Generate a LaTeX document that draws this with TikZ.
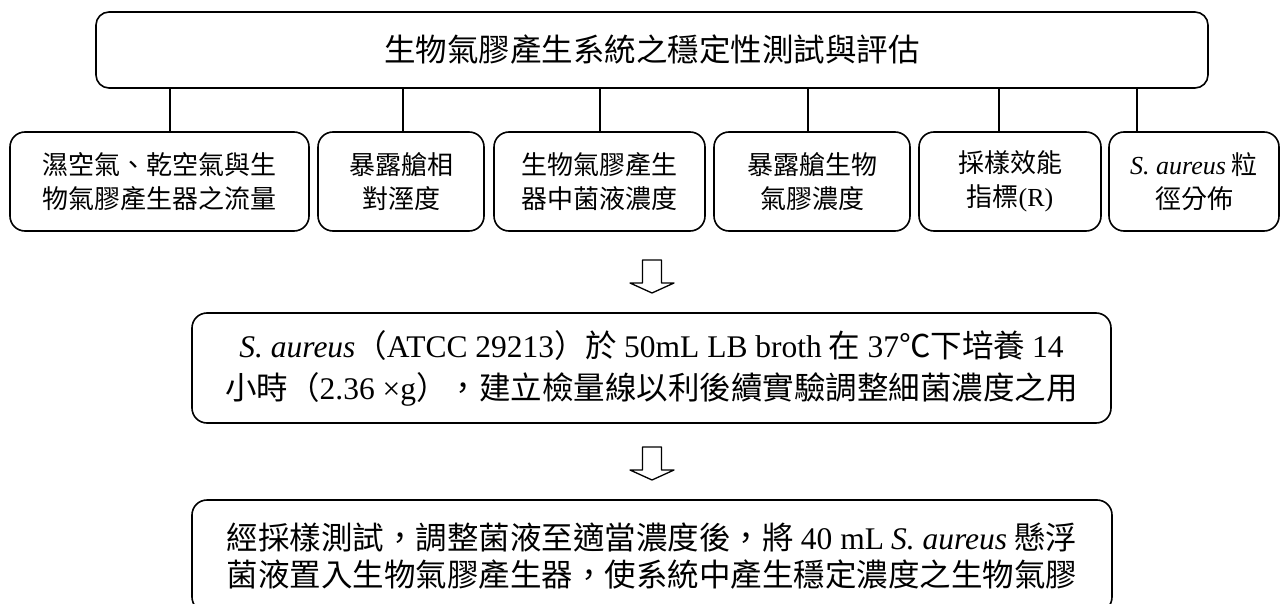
\documentclass[tikz,border=0pt]{standalone}
\usepackage{fontspec}
\setmainfont{Noto Sans CJK TC}
\newfontfamily\latfont{Liberation Serif}
\newcommand\lt[1]{{\latfont #1}}
\newcommand\ita[1]{{\latfont\itshape #1}}
\begin{document}
\begin{tikzpicture}[x=1pt,y=-1pt,line join=round,
  box/.style={draw, line width=1.6pt, rounded corners=14pt, inner sep=0pt, align=center, text=black},
  bigtext/.style={font=\fontsize{31.5}{42}\selectfont},
  kid/.style={box, minimum height=99pt, rounded corners=15pt, font=\fontsize{26}{34}\selectfont},
  conn/.style={line width=1.2pt},
  hollow/.style={draw, line width=1.3pt, fill=white}]
\useasboundingbox (0,0) rectangle (1281,604);
% top box
\node[box, bigtext, minimum width=1112pt, minimum height=76pt, rounded corners=13pt] (top) at (652,50) {生物氣膠產生系統之穩定性測試與評估};
% children
\node[kid, minimum width=299pt] (c1) at (159.5,181.5) {濕空氣、乾空氣與生\\物氣膠產生器之流量};
\node[kid, minimum width=166pt] (c2) at (401,181.5) {暴露艙相\\對溼度};
\node[kid, minimum width=211pt] (c3) at (599.5,181.5) {生物氣膠產生\\器中菌液濃度};
\node[kid, minimum width=196pt] (c4) at (812,181.5) {暴露艙生物\\氣膠濃度};
\node[kid, minimum width=182pt] (c5) at (1010,181.5) {採樣效能\\指標\lt{(R)}};
\node[kid, minimum width=170pt] (c6) at (1194,181.5) {\ita{S. aureus} 粒\\徑分佈};
% connector x positions
\coordinate (l1) at (170,0);
\coordinate (l2) at (403,0);
\coordinate (l3) at (600,0);
\coordinate (l4) at (808,0);
\coordinate (l5) at (999,0);
\coordinate (l6) at (1137,0);
\draw[conn] (l1 |- top.south) -- (l1 |- c1.north);
\draw[conn] (l2 |- top.south) -- (l2 |- c2.north);
\draw[conn] (l3 |- top.south) -- (l3 |- c3.north);
\draw[conn] (l4 |- top.south) -- (l4 |- c4.north);
\draw[conn] (l5 |- top.south) -- (l5 |- c5.north);
\draw[conn] (l6 |- top.south) -- (l6 |- c6.north);
% middle box
\node[box, minimum width=919pt, minimum height=110pt, rounded corners=15pt, font=\fontsize{31.5}{42}\selectfont] (mid) at (651.5,368)
 {\ita{S. aureus}（\lt{ATCC 29213}）於 \lt{50mL LB broth} 在 \lt{37}℃下培養 \lt{14}\\
  小時（\lt{2.36 ×g}），建立檢量線以利後續實驗調整細菌濃度之用};
% bottom box (runs past the lower edge)
\node[box, minimum width=920pt, minimum height=112pt, rounded corners=15pt, font=\fontsize{31.5}{37}\selectfont] (bot) at (652,556)
 {經採樣測試，調整菌液至適當濃度後，將 \lt{40 mL} \ita{S. aureus} 懸浮\\
  菌液置入生物氣膠產生器，使系統中產生穩定濃度之生物氣膠};
% hollow arrows
\coordinate (a1) at (652,260);
\coordinate (a2) at (652,447);
\draw[hollow] (a1) ++(-9.5,0) -- ++(19,0) -- ++(0,23) -- ++(12.5,0) -- ++(-22,10) -- ++(-22,-10) -- ++(12.5,0) -- cycle;
\draw[hollow] (a2) ++(-9.5,0) -- ++(19,0) -- ++(0,23) -- ++(12.5,0) -- ++(-22,10) -- ++(-22,-10) -- ++(12.5,0) -- cycle;
\end{tikzpicture}
\end{document}
